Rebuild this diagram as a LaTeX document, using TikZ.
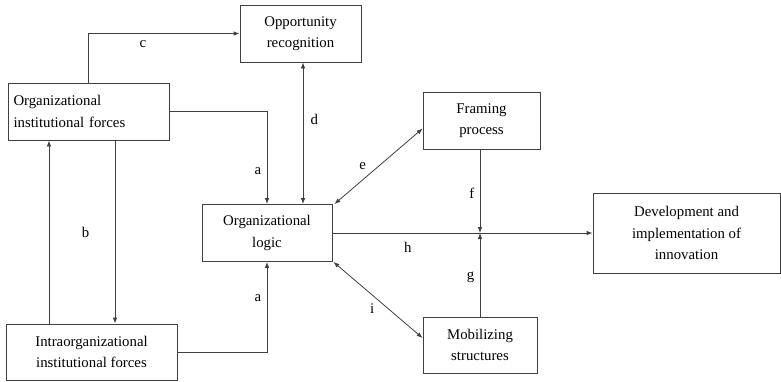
\documentclass[tikz,border=0pt]{standalone}
\usepackage{fontspec}
\setmainfont{Liberation Serif}
\usetikzlibrary{arrows.meta}
\begin{document}
\begin{tikzpicture}[x=1pt, y=-1pt, font=\fontsize{14.8}{21.5}\selectfont,
   box/.style={draw=black!75, line width=.8pt, align=center, inner sep=2pt},
   arr/.style={draw=black!75, line width=.8pt, -{Latex[length=6pt,width=4.5pt]}},
   dbl/.style={draw=black!75, line width=.8pt, {Latex[length=6pt,width=4.5pt]}-{Latex[length=6pt,width=4.5pt]}}]
   \useasboundingbox (0,0) rectangle (781,381);
   % boxes
   \node[box, minimum width=121pt, minimum height=57pt] (opp) at (300.5,33.5) {Opportunity\\recognition};
   \node[box, align=left, text width=150pt, inner xsep=5.5pt, minimum height=57pt] (oif) at (88.5,111.5) {Organizational\\institutional forces};
   \node[box, minimum width=130pt, minimum height=57pt] (logic) at (267,233) {Organizational\\logic};
   \node[box, minimum width=117pt, minimum height=57pt] (framing) at (481.5,120.5) {Framing\\process};
   \node[box, minimum width=187pt, minimum height=80pt] (dev) at (686.5,233) {Development and\\implementation of\\innovation};
   \node[box, minimum width=114pt, minimum height=56pt] (mobil) at (480,345) {Mobilizing\\structures};
   \node[box, minimum width=171pt, minimum height=56pt] (intra) at (91.5,352) {Intraorganizational\\institutional forces};
   % connectors
   \draw[arr] (oif.north) |- (opp.west) node[pos=.68, below=3pt] {c};
   \draw[arr] (oif.east) -| (logic.north) node[pos=.82, left=2pt] {a};
   \draw[dbl] ([xshift=2.5pt]opp.south) -- ([xshift=2.5pt]opp.south |- logic.north) node[pos=.4, right=4pt] {d};
   \draw[dbl] ([yshift=-8pt]framing.west) -- ([xshift=2pt]logic.north east) node[pos=.6, above left=0pt] {e};
   \draw[dbl] ([yshift=7pt]mobil.west) -- ([xshift=1pt]logic.south east) node[pos=.5, below left=0pt] {i};
   \draw[arr] ([xshift=-1.5pt]framing.south) -- ([xshift=-1.5pt]framing.south |- logic.east) node[pos=.52, left=2pt] {f};
   \draw[arr] (mobil.north) -- (mobil.north |- logic.east) node[pos=.47, left=2pt] {g};
   \draw[arr] (logic.east) -- (dev.west) node[pos=.29, below=5pt] {h};
   \draw[arr] ([xshift=26.5pt]oif.south) -- ([xshift=26.5pt]oif.south |- intra.north) node[midway, left=22pt] {b};
   \draw[arr] ([xshift=-42.5pt]intra.north) -- ([xshift=-42.5pt]intra.north |- oif.south);
   \draw[arr] (intra.east) -| (logic.south) node[pos=.8, left=2pt] {a};
\end{tikzpicture}
\end{document}
